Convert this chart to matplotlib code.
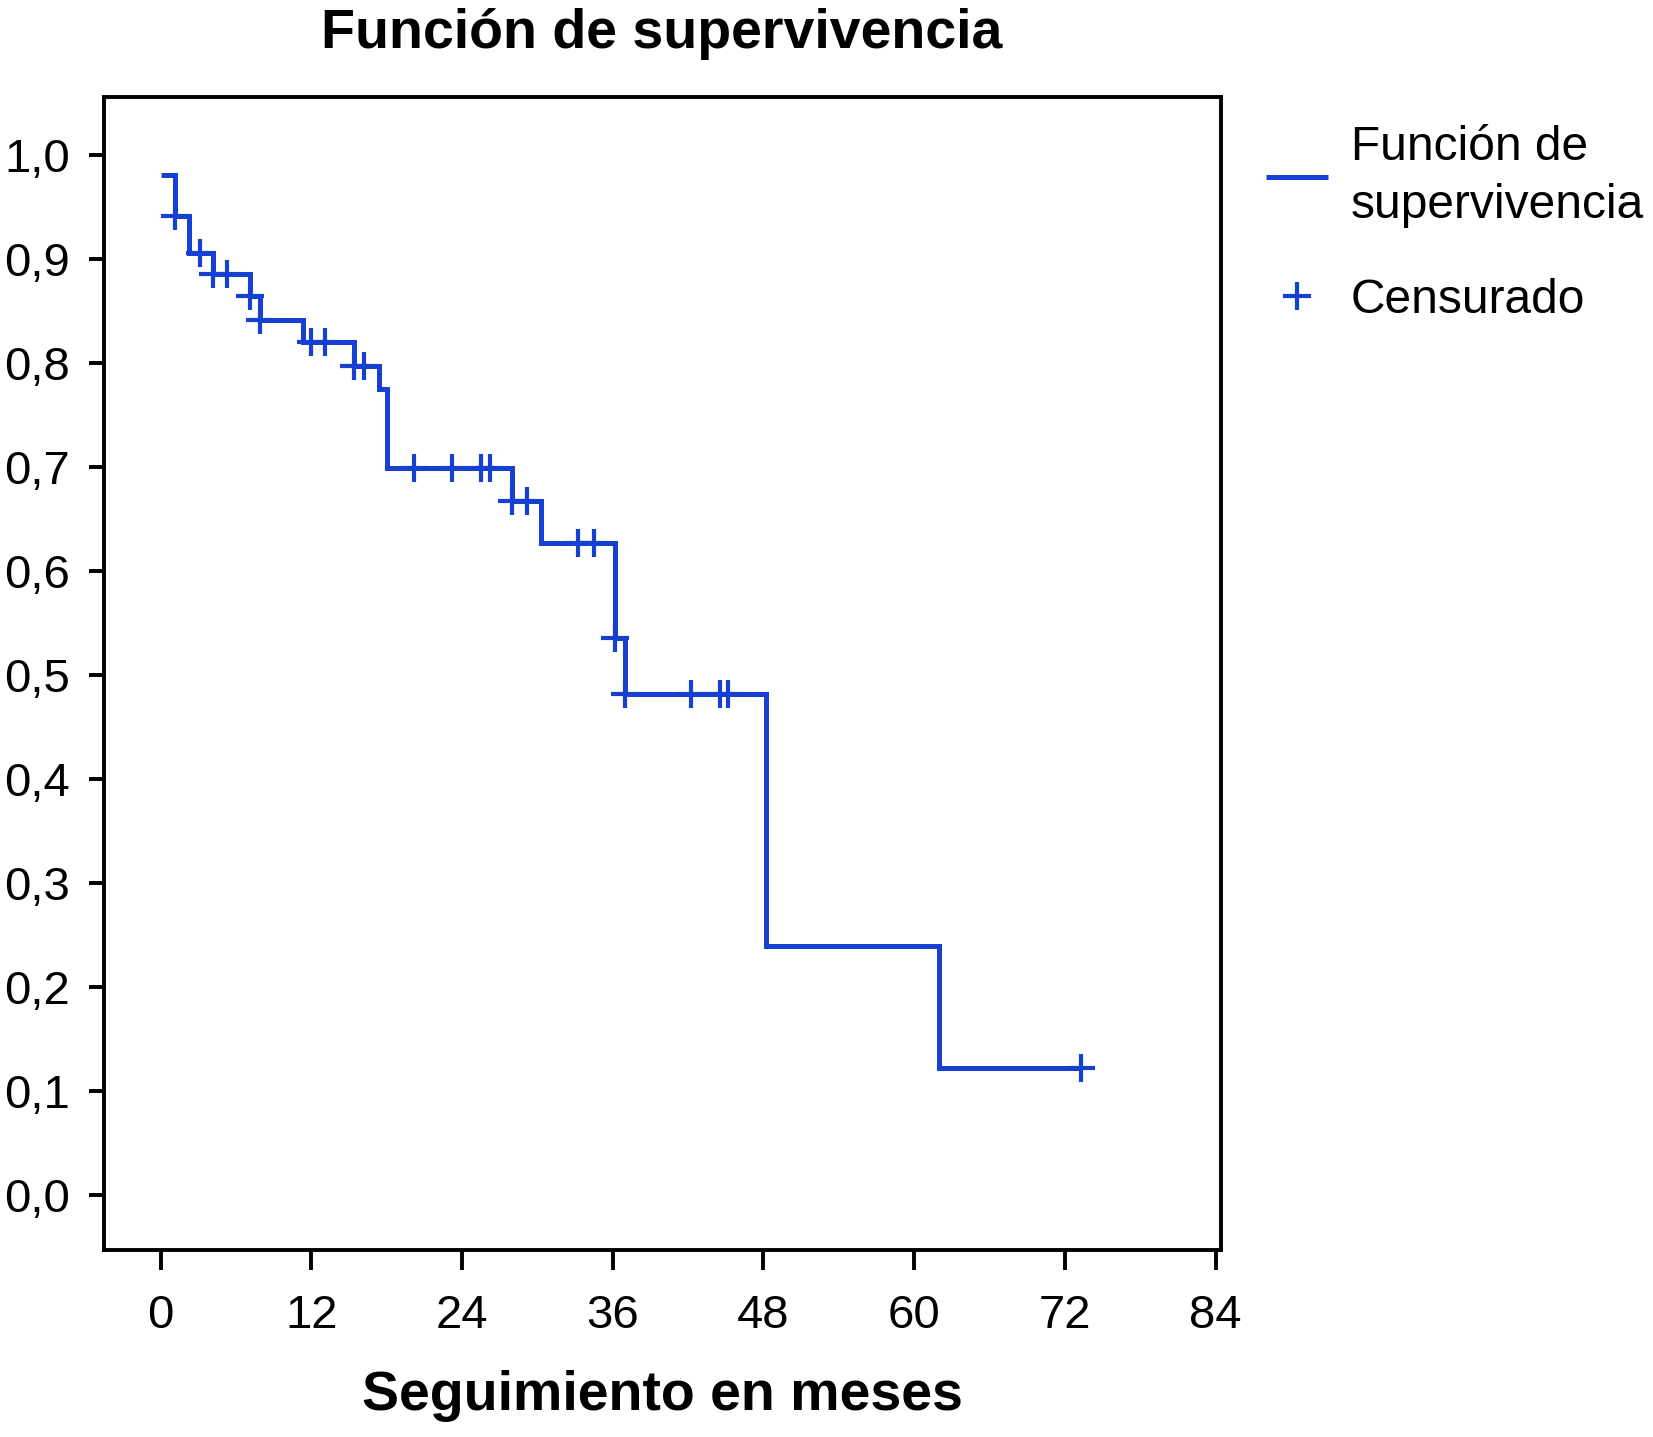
import numpy as np
import matplotlib
matplotlib.use("Agg")
from matplotlib import pyplot as plt

# curva de Kaplan-Meier
tiempos = [0, 1.15, 2.25, 4.15, 7.1, 7.9, 11.3, 15.4, 17.4, 18.0, 28.0, 30.3, 36.2, 37.0, 48.2, 62.0, 73.25]
supervivencia = [0.981, 0.941, 0.906, 0.886, 0.864, 0.841, 0.820, 0.797, 0.775, 0.699, 0.667, 0.627, 0.535, 0.482, 0.239, 0.122, 0.122]

# casos censurados
cens_t = [1.15, 3.1, 4.15, 5.25, 7.1, 7.9, 12.0, 13.1, 15.4, 16.2, 20.2, 23.2, 25.5, 26.2,
          28.0, 29.2, 33.25, 34.5, 36.2, 37.0, 42.2, 44.5, 45.2, 73.25]
cens_s = [0.941, 0.906, 0.886, 0.886, 0.864, 0.841, 0.820, 0.820, 0.797, 0.797, 0.699, 0.699, 0.699, 0.699,
          0.667, 0.667, 0.627, 0.627, 0.535, 0.482, 0.482, 0.482, 0.482, 0.122]

xticks = [0, 12, 24, 36, 48, 60, 72, 84]
yticks = [0.0, 0.1, 0.2, 0.3, 0.4, 0.5, 0.6, 0.7, 0.8, 0.9, 1.0]
ytick_labels = ["0,0", "0,1", "0,2", "0,3", "0,4", "0,5", "0,6", "0,7", "0,8", "0,9", "1,0"]

azul = "#1640d2"
plt.rcParams["font.family"] = ["Liberation Sans", "DejaVu Sans"]

fig = plt.figure(figsize=(16.53, 14.37), dpi=100)
ax = fig.add_axes([0.0627, 0.1301, 0.6757, 0.8024])

linea, = ax.step(tiempos, supervivencia, where="post", color=azul, lw=3.6,
                 solid_joinstyle="miter", solid_capstyle="butt")
cruces, = ax.plot(cens_t, cens_s, "+", color=azul, ms=20, mew=3.0, ls="none")

ax.set_xlim(-4.54, 84.4)
ax.set_ylim(-0.0532, 1.0558)
ax.set_xticks(xticks)
ax.set_xticklabels([str(v) for v in xticks])
ax.set_yticks(yticks)
ax.set_yticklabels(ytick_labels)

for s in ax.spines.values():
    s.set_linewidth(2.8)
ax.tick_params(axis="x", length=14.4, width=2.8, pad=17, labelsize=34)
ax.tick_params(axis="y", length=10.8, width=2.8, pad=13.5, labelsize=34)

ax.set_title("Función de supervivencia", fontsize=40, fontweight="bold", pad=35.5)
ax.set_xlabel("Seguimiento en meses", fontsize=40, fontweight="bold", labelpad=23.5)

leg = fig.legend([linea, cruces], ["Función de\nsupervivencia", "Censurado"],
                 loc="upper left", bbox_to_anchor=(0.766, 0.913), frameon=False,
                 fontsize=34.5, borderpad=0, borderaxespad=0, handlelength=1.29,
                 handletextpad=0.48, labelspacing=1.03)
leg.get_texts()[0].set_linespacing(1.38)

fig.savefig("out.png", dpi=100)
